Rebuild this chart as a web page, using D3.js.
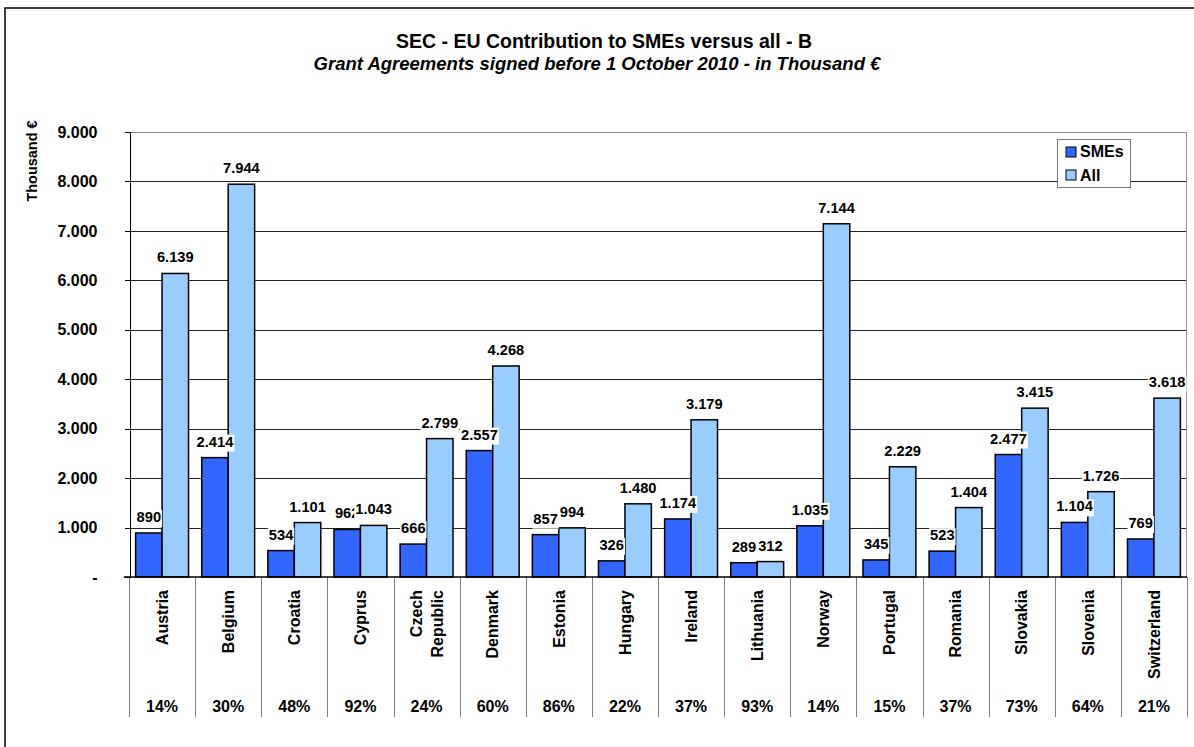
<!DOCTYPE html>
<html>
<head>
<meta charset="utf-8">
<script src="https://cdn.jsdelivr.net/npm/d3@7"></script>
<style>
  html, body { margin: 0; padding: 0; background: #fff; }
  svg { display: block; font-family: Arial, "Liberation Sans", sans-serif; }
  text { font-weight: bold; fill: #000; }
</style>
</head>
<body>
<svg id="chart" width="1194" height="747"></svg>
<script>
// Countries along the x axis
const categories = ["Austria", "Belgium", "Croatia", "Cyprus", "Czech Republic", "Denmark",
  "Estonia", "Hungary", "Ireland", "Lithuania", "Norway", "Portugal", "Romania",
  "Slovakia", "Slovenia", "Switzerland"];

// EU contribution, thousand €
const smeValues = [890, 2414, 534, 962, 666, 2557, 857, 326, 1174, 289, 1035, 345, 523, 2477, 1104, 769];
const allValues = [6139, 7944, 1101, 1043, 2799, 4268, 994, 1480, 3179, 312, 7144, 2229, 1404, 3415, 1726, 3618];

// Share of SMEs in the total, per country (%)
const smeShare = [14, 30, 48, 92, 24, 60, 86, 22, 37, 93, 14, 15, 37, 73, 64, 21];

const seriesNames = ["SMEs", "All"];
const seriesColors = ["#3366FF", "#99CCFF"];
const yTicks = [0, 1000, 2000, 3000, 4000, 5000, 6000, 7000, 8000, 9000];

const titleText = "SEC - EU Contribution to SMEs versus all - B";
const subtitleText = "Grant Agreements signed before 1 October 2010 - in Thousand €";
const yAxisTitle = "Thousand €";

// ---- layout ----
const plot = { left: 129, right: 1187, top: 132, bottom: 577 };
const tableBottom = 717;

const svg = d3.select("#chart");
const locale = d3.formatLocale({ decimal: ",", thousands: ".", grouping: [3], currency: ["", "€"] });
const fmt = locale.format(",.0f");
const fmtTick = v => v === 0 ? "-" : fmt(v);

const x = d3.scaleBand().domain(categories).range([plot.left, plot.right]);
const x1 = d3.scaleBand().domain(seriesNames).range([0, x.bandwidth()]).paddingOuter(0.25);
const y = d3.scaleLinear().domain([0, 9000]).range([plot.bottom, plot.top]);

// outer frame
svg.append("rect")
  .attr("x", 5).attr("y", 8).attr("width", 1200).attr("height", 760)
  .attr("fill", "none").attr("stroke", "#000").attr("stroke-width", 1.5);

// titles
svg.append("text").attr("x", 604).attr("y", 48).attr("text-anchor", "middle")
  .style("font-size", "19.5px").text(titleText);
svg.append("text").attr("x", 597).attr("y", 70).attr("text-anchor", "middle")
  .style("font-size", "18.5px").style("font-style", "italic").text(subtitleText);

// y axis title
svg.append("text")
  .attr("transform", "translate(37,161) rotate(-90)")
  .attr("text-anchor", "middle")
  .style("font-size", "14.5px")
  .text(yAxisTitle);

// horizontal gridlines
const grid = svg.append("g").attr("shape-rendering", "crispEdges");
grid.selectAll("line")
  .data(yTicks.filter(t => t > 0))
  .join("line")
  .attr("x1", plot.left).attr("x2", plot.right)
  .attr("y1", d => Math.round(y(d)) + 0.5).attr("y2", d => Math.round(y(d)) + 0.5)
  .attr("stroke", d => d === 9000 ? "#888" : "#222").attr("stroke-width", 1);

// plot right border
grid.append("line")
  .attr("x1", plot.right - 0.5).attr("x2", plot.right - 0.5)
  .attr("y1", plot.top).attr("y2", plot.bottom)
  .attr("stroke", "#999");

// y axis via d3.axisLeft
const yAxis = svg.append("g")
  .attr("transform", `translate(${plot.left + 0.5},0)`)
  .attr("shape-rendering", "crispEdges")
  .call(d3.axisLeft(y).tickValues(yTicks).tickFormat(fmtTick).tickSize(5).tickPadding(27));
yAxis.select(".domain").attr("stroke", "#000");
yAxis.selectAll(".tick line").attr("stroke", "#000");
yAxis.selectAll(".tick text")
  .style("font-size", "16px").style("font-weight", "bold")
  .style("font-family", "Arial, 'Liberation Sans', sans-serif").attr("fill", "#000");

// category table: vertical separators
const seps = [...categories.map(c => x(c)), plot.right];
svg.append("g").attr("shape-rendering", "crispEdges")
  .selectAll("line").data(seps).join("line")
  .attr("x1", d => Math.round(d) + 0.5).attr("x2", d => Math.round(d) + 0.5)
  .attr("y1", plot.bottom).attr("y2", tableBottom)
  .attr("stroke", "#808080");

// bars
const groups = svg.append("g").selectAll("g")
  .data(categories).join("g")
  .attr("transform", d => `translate(${x(d)},0)`);

const barData = (c, i) => [
  { key: "SMEs", value: smeValues[i], color: seriesColors[0] },
  { key: "All", value: allValues[i], color: seriesColors[1] }
];

groups.selectAll("rect")
  .data(barData)
  .join("rect")
  .attr("x", d => x1(d.key))
  .attr("width", x1.bandwidth())
  .attr("y", d => y(d.value))
  .attr("height", d => y(0) - y(d.value))
  .attr("fill", d => d.color)
  .attr("stroke", "#000").attr("stroke-width", 1.5);

// x axis baseline
svg.append("line")
  .attr("x1", plot.left - 5).attr("x2", plot.right)
  .attr("y1", plot.bottom).attr("y2", plot.bottom)
  .attr("stroke", "#000").attr("stroke-width", 1.5);

// value labels with white backgrounds; SMEs first, All on top
const labelLayer = svg.append("g");
seriesNames.forEach((s, si) => {
  const vals = si === 0 ? smeValues : allValues;
  categories.forEach((c, i) => {
    const cx = x(c) + x1(s) + x1.bandwidth() / 2;
    const base = y(vals[i]) - 11;
    const g = labelLayer.append("g");
    const t = g.append("text")
      .attr("x", cx).attr("y", base)
      .attr("text-anchor", "middle")
      .style("font-size", "14.7px")
      .text(fmt(vals[i]));
    const w = t.node().getComputedTextLength();
    g.insert("rect", "text")
      .attr("x", cx - w / 2 - 1).attr("y", base - 12)
      .attr("width", w + 2).attr("height", 17)
      .attr("fill", "#fff");
  });
});

// category names (rotated), top-aligned
const catLayer = svg.append("g");
categories.forEach(c => {
  const cx = x(c) + x.bandwidth() / 2;
  const words = c === "Czech Republic" ? ["Czech", "Republic"] : [c];
  words.forEach((wd, k) => {
    const off = words.length === 1 ? 0 : (k === 0 ? -10.5 : 10.5);
    catLayer.append("text")
      .attr("transform", `translate(${cx + off},590) rotate(-90)`)
      .attr("text-anchor", "end")
      .attr("dy", "0.36em")
      .style("font-size", "16px")
      .text(wd);
  });
});

// SME share row
svg.append("g").selectAll("text")
  .data(categories).join("text")
  .attr("x", d => x(d) + x.bandwidth() / 2)
  .attr("y", 712)
  .attr("text-anchor", "middle")
  .style("font-size", "16px")
  .text((d, i) => smeShare[i] + "%");

// legend
const legend = svg.append("g").attr("transform", "translate(1057,139)");
legend.append("rect").attr("x", 0.5).attr("y", 0.5).attr("width", 73).attr("height", 48)
  .attr("fill", "#fff").attr("stroke", "#777");
seriesNames.forEach((s, i) => {
  legend.append("rect")
    .attr("x", 9).attr("y", 8 + i * 23).attr("width", 10).attr("height", 10)
    .attr("fill", seriesColors[i]).attr("stroke", "#000").attr("stroke-width", 1);
  legend.append("text")
    .attr("x", 23).attr("y", 18 + i * 24)
    .style("font-size", "16px")
    .text(s);
});
</script>
</body>
</html>
